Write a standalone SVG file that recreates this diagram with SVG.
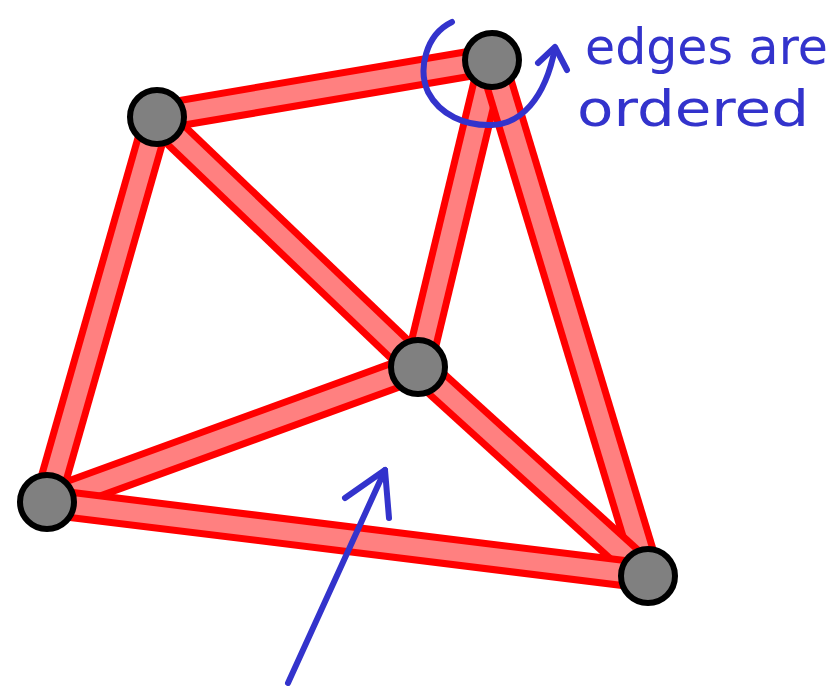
<svg xmlns="http://www.w3.org/2000/svg" width="838" height="690" viewBox="0 0 838 690">
<style>
.eo{stroke:#ff0000;stroke-width:32;stroke-linecap:butt}
.ei{stroke:#ff8080;stroke-width:18;stroke-linecap:butt}
.node{fill:#808080;stroke:#000;stroke-width:6}
.ink{fill:none;stroke:#3333cc;stroke-width:6;stroke-linecap:round;stroke-linejoin:round}
.hand{fill:#3333cc;font-family:"DejaVu Sans",sans-serif;font-size:49px}
</style>
<rect width="838" height="690" fill="#fff"/>
<g id="connectors">
<line class="eo" x1="157" y1="117" x2="47" y2="502"/><line class="ei" x1="157" y1="117" x2="47" y2="502"/>
<line class="eo" x1="157" y1="117" x2="492" y2="60"/><line class="ei" x1="157" y1="117" x2="492" y2="60"/>
<line class="eo" x1="157" y1="117" x2="418" y2="367"/><line class="ei" x1="157" y1="117" x2="418" y2="367"/>
<line class="eo" x1="492" y1="60" x2="418" y2="367"/><line class="ei" x1="492" y1="60" x2="418" y2="367"/>
<line class="eo" x1="492" y1="60" x2="648" y2="576"/><line class="ei" x1="492" y1="60" x2="648" y2="576"/>
<line class="eo" x1="418" y1="367" x2="648" y2="576"/><line class="ei" x1="418" y1="367" x2="648" y2="576"/>
<line class="eo" x1="47" y1="502" x2="418" y2="367"/><line class="ei" x1="47" y1="502" x2="418" y2="367"/>
<line class="eo" x1="47" y1="502" x2="648" y2="576"/><line class="ei" x1="47" y1="502" x2="648" y2="576"/>
</g>
<g id="nodeA"><circle class="node" cx="157" cy="117" r="27"/></g>
<g id="nodeB"><circle class="node" cx="492" cy="60" r="27"/></g>
<g id="nodeC"><circle class="node" cx="418" cy="367" r="27"/></g>
<g id="nodeD"><circle class="node" cx="47" cy="502" r="27"/></g>
<g id="nodeE"><circle class="node" cx="648" cy="576" r="27"/></g>
<g id="annotation-order">
<path class="ink" d="M452,22 C425,35 418,70 428,92 C440,115 465,126 492,125 C520,124 545,100 555,48"/>
<path class="ink" d="M538,63 L555,47 L567,70"/>
<text class="hand" x="585" y="64">edges are</text>
<text class="hand" x="577" y="126" textLength="232" lengthAdjust="spacingAndGlyphs">ordered</text>
</g>
<g id="annotation-arrow">
<path class="ink" d="M288,683 L385,470"/>
<path class="ink" d="M345,498 L385,470 L389,518"/>
</g>
</svg>
